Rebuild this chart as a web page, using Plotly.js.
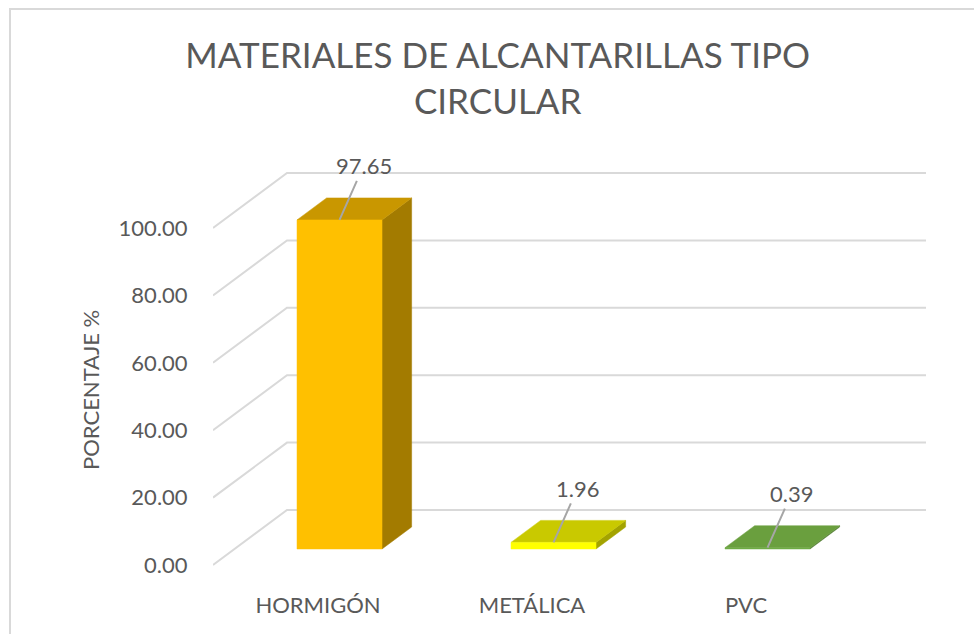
<!DOCTYPE html>
<html>
<head>
<meta charset="utf-8">
<script src="https://cdn.plot.ly/plotly-3.0.1.min.js"></script>
<style>
  html, body { margin: 0; padding: 0; background: #ffffff; }
  #frame { position: absolute; left: 9px; top: 8px; width: 1100px; height: 800px; border-left: 2px solid #d9d9d9; border-top: 2px solid #d9d9d9; }
  #chart { position: absolute; left: 0; top: 0; width: 974px; height: 634px; }
</style>
</head>
<body>
<div id="frame"></div>
<div id="chart"></div>
<script>
// ---- data ----
const categories = ['HORMIGÓN', 'METÁLICA', 'PVC'];
const values = [97.65, 1.96, 0.39];
const valueLabels = ['97.65', '1.96', '0.39'];
const yTickVals = [0, 20, 40, 60, 80, 100];
const yTickText = ['0.00', '20.00', '40.00', '60.00', '80.00', '100.00'];

// ---- styling ----
const frontColors = ['#FFC000', '#FFFF00', '#70AD47'];
const topColors = ['#C99700', '#C9C900', '#6A9F3E'];
const sideColors = ['#A37B00', '#A3A300', '#557F35'];
const textColor = '#595959';
const gridColor = '#D9D9D9';

// ---- pseudo-3D projection (pixel geometry) ----
const PX_X = 214;      // pixels per category
const PX_Y = 3.37;     // pixels per unit of value
const K = 74 / 55;     // depth slant (dx/dy)
const WALL_DEPTH = 55, BAR_FRONT = 16, BAR_BACK = 38, BAR_HALF = 42.5;
const XL = -105 / PX_X, XR = 608 / PX_X;
function P(xc, val, depth) { return [xc + depth * K / PX_X, val + depth / PX_Y]; }

const traces = [];
// gridlines: side wall diagonals and back wall horizontals
const gx = [], gy = [];
yTickVals.forEach(v => {
  const a = P(XL, v, 0), b = P(XL, v, WALL_DEPTH);
  gx.push(a[0], b[0], XR, null);
  gy.push(a[1], b[1], b[1], null);
});
traces.push({ type: 'scatter', mode: 'lines', x: gx, y: gy, line: { color: gridColor, width: 2 }, hoverinfo: 'skip' });

function poly(pts, color) {
  return { type: 'scatter', mode: 'lines', fill: 'toself', fillcolor: color,
    x: pts.map(p => p[0]).concat([pts[0][0]]), y: pts.map(p => p[1]).concat([pts[0][1]]),
    line: { color: color, width: 0.5 }, hoverinfo: 'skip' };
}

const annotations = [];
values.forEach((v, i) => {
  const hw = BAR_HALF / PX_X;
  const side = [P(i + hw, 0, BAR_FRONT), P(i + hw, 0, BAR_BACK), P(i + hw, v, BAR_BACK), P(i + hw, v, BAR_FRONT)];
  const top = [P(i - hw, v, BAR_FRONT), P(i + hw, v, BAR_FRONT), P(i + hw, v, BAR_BACK), P(i - hw, v, BAR_BACK)];
  const front = [P(i - hw, 0, BAR_FRONT), P(i + hw, 0, BAR_FRONT), P(i + hw, v, BAR_FRONT), P(i - hw, v, BAR_FRONT)];
  traces.push(poly(side, sideColors[i]));
  traces.push(poly(top, topColors[i]));
  traces.push(poly(front, frontColors[i]));
  const head = P(i, v, BAR_FRONT);
  annotations.push({ x: head[0], y: head[1], xref: 'x', yref: 'y', text: valueLabels[i],
    showarrow: true, arrowhead: 0, arrowwidth: 2, arrowcolor: '#A6A6A6', ax: 24, ay: -54,
    standoff: 0, startstandoff: 0, font: { family: 'Lato, sans-serif', size: 22, color: textColor } });
});

// y-axis title (placed as a rotated text label, centred like the reference)
annotations.push({ xref: 'paper', yref: 'paper', x: (90 - 213) / 713, y: (575 - 390) / 435,
  xanchor: 'center', yanchor: 'middle', textangle: -90, showarrow: false, text: 'PORCENTAJE %',
  font: { family: 'Lato, sans-serif', size: 22, color: textColor } });

const layout = {
  width: 974, height: 634,
  margin: { l: 213, r: 48, t: 140, b: 59 },
  paper_bgcolor: 'rgba(0,0,0,0)', plot_bgcolor: 'rgba(0,0,0,0)',
  showlegend: false,
  font: { family: 'Lato, sans-serif', color: textColor },
  title: { text: 'MATERIALES DE ALCANTARILLAS TIPO<br>CIRCULAR', x: 0.511, xanchor: 'center',
    yref: 'container', y: 1 - 68 / 634, yanchor: 'top',
    font: { family: 'Lato, sans-serif', size: 35, color: textColor } },
  xaxis: { range: [XL, XR], tickvals: [0, 1, 2], ticktext: categories, showgrid: false, zeroline: false,
    showline: false, ticks: 'outside', ticklen: 11, tickcolor: 'rgba(0,0,0,0)',
    tickfont: { size: 22, color: textColor }, fixedrange: true },
  yaxis: { range: [-10 / PX_Y, 425 / PX_Y], tickvals: yTickVals, ticktext: yTickText, showgrid: false,
    zeroline: false, showline: false, ticks: 'outside', ticklen: 20, tickcolor: 'rgba(0,0,0,0)',
    tickfont: { size: 22, color: textColor }, fixedrange: true },
  annotations: annotations
};

Plotly.newPlot('chart', traces, layout, { displayModeBar: false, staticPlot: true });
</script>
</body>
</html>
